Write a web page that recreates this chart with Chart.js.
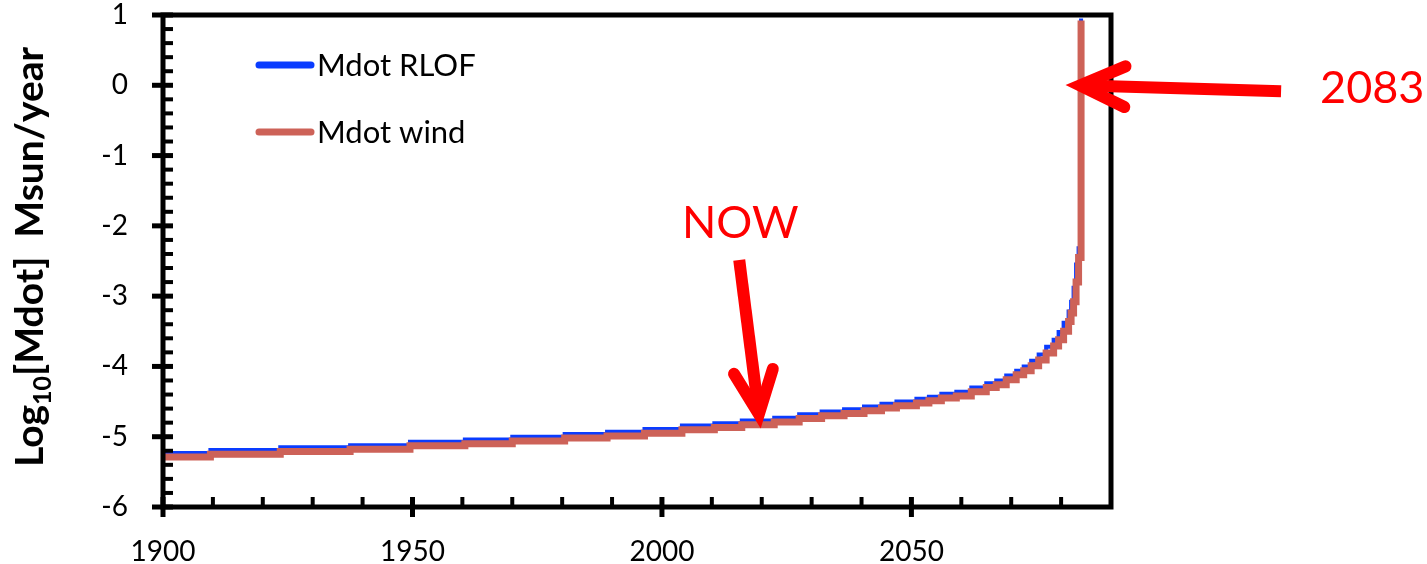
<!DOCTYPE html>
<html>
<head>
<meta charset="utf-8">
<script src="https://cdn.jsdelivr.net/npm/chart.js@4/dist/chart.umd.min.js"></script>
<style>
html,body{margin:0;padding:0;background:#fff;}
#wrap{width:1427px;height:564px;position:relative;}
canvas{display:block;}
</style>
</head>
<body>
<div id="wrap"><canvas id="c" width="1427" height="564"></canvas></div>
<script>
// ---- data ----
const years = [1900, 1909.5, 1923.5, 1937.5, 1949.5, 1960.5, 1970, 1980.5, 1989, 1996.5,
  2004, 2010.5, 2016, 2022.5, 2027.5, 2032, 2036.5, 2040.5, 2044, 2047,
  2051, 2053.5, 2056, 2059, 2062, 2065, 2067, 2069, 2071, 2072.5,
  2074, 2075.5, 2077, 2078.5, 2079.5, 2080.5, 2081.5, 2082, 2082.5, 2083,
  2083.5, 2084];
const mdotRLOF = [-5.23, -5.19, -5.15, -5.12, -5.07, -5.04, -5.00, -4.96, -4.93, -4.89,
  -4.84, -4.81, -4.77, -4.73, -4.68, -4.64, -4.61, -4.57, -4.53, -4.50,
  -4.46, -4.43, -4.39, -4.36, -4.30, -4.24, -4.20, -4.13, -4.06, -4.00,
  -3.92, -3.83, -3.72, -3.62, -3.51, -3.38, -3.22, -3.08, -2.88, -2.55,
  -2.32, 0.95];
const mdotWind = [-5.29, -5.25, -5.21, -5.18, -5.13, -5.10, -5.06, -5.02, -4.99, -4.95,
  -4.90, -4.87, -4.83, -4.79, -4.74, -4.70, -4.67, -4.63, -4.59, -4.56,
  -4.52, -4.49, -4.45, -4.42, -4.36, -4.30, -4.26, -4.19, -4.12, -4.06,
  -3.99, -3.91, -3.81, -3.71, -3.62, -3.50, -3.36, -3.24, -3.08, -2.80,
  -2.45, 0.92];
const seriesNames = ['Mdot RLOF', 'Mdot wind'];
const xTickValues = [1900, 1950, 2000, 2050];
const yTickValues = [-6, -5, -4, -3, -2, -1, 0, 1];
const xMinorStep = 10;
const yMinorStep = 0.2;
const nowMark = {year: 2019.5, value: -4.72, text: 'NOW'};
const endMark = {year: 2083.2, value: 0, text: '2083'};
const yTitleMain = 'Log', yTitleSub = '10', yTitleRest = '[Mdot]  Msun/year';

const FONT = 'Lato, Carlito, Calibri, "Open Sans", sans-serif';
const BLUE = '#0A3CFF';
const RED = '#CD6258';

const framePlugin = {
  id: 'framePlugin',
  afterDatasetsDraw(chart) {
    const ctx = chart.ctx;
    const {left, right, top, bottom} = chart.chartArea;
    const xs = chart.scales.x, ys = chart.scales.y;
    ctx.save();
    ctx.strokeStyle = '#000';
    ctx.lineCap = 'butt';
    ctx.lineWidth = 4;
    for (let v = ys.min; v < ys.max - 1e-9; v += yMinorStep) {
      const r = Math.round(v * 10) / 10;
      if (Math.abs(r - Math.round(r)) < 1e-6) continue;
      const py = ys.getPixelForValue(r);
      ctx.beginPath(); ctx.moveTo(left, py); ctx.lineTo(left + 10, py); ctx.stroke();
    }
    ctx.lineWidth = 5;
    yTickValues.forEach(v => {
      const py = ys.getPixelForValue(v);
      ctx.beginPath(); ctx.moveTo(left - 11, py); ctx.lineTo(left + 10, py); ctx.stroke();
    });
    ctx.lineWidth = 4;
    for (let v = xs.min + xMinorStep; v < xs.max - 1e-9; v += xMinorStep) {
      if (v % 50 === 0) continue;
      const px = xs.getPixelForValue(v);
      ctx.beginPath(); ctx.moveTo(px, bottom); ctx.lineTo(px, bottom - 10); ctx.stroke();
    }
    ctx.lineWidth = 5;
    xTickValues.forEach(v => {
      const px = xs.getPixelForValue(v);
      ctx.beginPath(); ctx.moveTo(px, bottom + 10); ctx.lineTo(px, bottom - 10); ctx.stroke();
    });
    ctx.lineWidth = 5;
    ctx.lineJoin = 'miter';
    ctx.strokeRect(left, top, right - left, bottom - top);
    ctx.restore();
  }
};

function drawArrow(ctx, tipX, tipY, tailX, tailY, wingLen, wingAng, width) {
  const dx = tailX - tipX, dy = tailY - tipY;
  const L = Math.hypot(dx, dy);
  const ux = dx / L, uy = dy / L;
  ctx.save();
  ctx.strokeStyle = '#FF0000';
  ctx.lineWidth = width;
  ctx.lineCap = 'butt';
  ctx.beginPath();
  ctx.moveTo(tailX, tailY);
  ctx.lineTo(tipX + ux * 8, tipY + uy * 8);
  ctx.stroke();
  const rot = (a) => [ux * Math.cos(a) - uy * Math.sin(a), ux * Math.sin(a) + uy * Math.cos(a)];
  const w1 = rot(wingAng), w2 = rot(-wingAng);
  ctx.lineCap = 'round';
  ctx.lineJoin = 'miter';
  ctx.beginPath();
  ctx.moveTo(tipX + w1[0] * wingLen, tipY + w1[1] * wingLen);
  ctx.lineTo(tipX + ux * 3, tipY + uy * 3);
  ctx.lineTo(tipX + w2[0] * wingLen, tipY + w2[1] * wingLen);
  ctx.stroke();
  ctx.restore();
}

const annotPlugin = {
  id: 'annotPlugin',
  afterDraw(chart) {
    const ctx = chart.ctx;
    const xs = chart.scales.x, ys = chart.scales.y;
    const {left, top, bottom} = chart.chartArea;

    // legend
    ctx.save();
    ctx.font = '31px ' + FONT;
    ctx.textBaseline = 'middle';
    ctx.fillStyle = '#000';
    chart.data.datasets.forEach((ds, i) => {
      const yy = top + 50 + i * 67;
      ctx.strokeStyle = ds.borderColor;
      ctx.lineWidth = 7;
      ctx.lineCap = 'round';
      ctx.beginPath(); ctx.moveTo(left + 96, yy); ctx.lineTo(left + 148, yy); ctx.stroke();
      ctx.fillText(ds.label, left + 154, yy + 1);
    });
    ctx.restore();

    // NOW arrow
    const tx = xs.getPixelForValue(nowMark.year), ty = ys.getPixelForValue(nowMark.value);
    const sx = tx - 20, sy = ty - 157;
    drawArrow(ctx, tx, ty, sx, sy, 50, 23 * Math.PI / 180, 12);
    ctx.save();
    ctx.fillStyle = '#FF0000';
    ctx.font = '45px ' + FONT;
    ctx.textAlign = 'center';
    ctx.textBaseline = 'alphabetic';
    ctx.fillText(nowMark.text, sx + 1, sy - 22);
    ctx.restore();

    // 2083 arrow
    const ex = xs.getPixelForValue(endMark.year), ey = ys.getPixelForValue(endMark.value);
    const fx = ex + 204, fy = ey + 6;
    drawArrow(ctx, ex, ey, fx, fy, 52, 23 * Math.PI / 180, 12);
    ctx.save();
    ctx.fillStyle = '#FF0000';
    ctx.font = '45px ' + FONT;
    ctx.textAlign = 'left';
    ctx.textBaseline = 'alphabetic';
    ctx.fillText(endMark.text, fx + 39, fy + 12);
    ctx.restore();

    // y axis title
    ctx.save();
    ctx.fillStyle = '#000';
    ctx.translate(43, (top + bottom) / 2 - 4);
    ctx.rotate(-Math.PI / 2);
    const mainF = 'bold 39px ' + FONT, subF = 'bold 25px ' + FONT;
    ctx.font = mainF; const w1 = ctx.measureText(yTitleMain).width;
    ctx.font = subF; const w2 = ctx.measureText(yTitleSub).width;
    ctx.font = mainF; const w3 = ctx.measureText(yTitleRest).width;
    let x0 = -(w1 + w2 + w3) / 2;
    ctx.textBaseline = 'alphabetic';
    ctx.textAlign = 'left';
    ctx.font = mainF; ctx.fillText(yTitleMain, x0, 0);
    ctx.font = subF; ctx.fillText(yTitleSub, x0 + w1, 8);
    ctx.font = mainF; ctx.fillText(yTitleRest, x0 + w1 + w2, 0);
    ctx.restore();
  }
};

const toPts = (vals) => years.map((x, i) => ({x: x, y: vals[i]}));

new Chart(document.getElementById('c').getContext('2d'), {
  type: 'line',
  data: {
    datasets: [
      {label: seriesNames[0], data: toPts(mdotRLOF), borderColor: BLUE, backgroundColor: BLUE,
       borderWidth: 4, stepped: true, pointRadius: 0, fill: false, order: 2},
      {label: seriesNames[1], data: toPts(mdotWind), borderColor: RED, backgroundColor: RED,
       borderWidth: 7, stepped: true, pointRadius: 0, fill: false, order: 1}
    ]
  },
  options: {
    responsive: false,
    animation: false,
    devicePixelRatio: 1,
    layout: {padding: {top: 15, right: 316, left: 0, bottom: 0}},
    plugins: {legend: {display: false}, tooltip: {enabled: false}},
    scales: {
      x: {
        type: 'linear', min: 1900, max: 2090,
        grid: {display: false, drawTicks: false},
        border: {display: false},
        ticks: {padding: 28, color: '#000', font: {family: FONT, size: 28},
                autoSkip: false, maxRotation: 0, callback: v => String(v)},
        afterBuildTicks: s => { s.ticks = xTickValues.map(v => ({value: v})); },
        afterFit: s => { s.height = 57; s.paddingLeft = 0; s.paddingRight = 0; }
      },
      y: {
        type: 'linear', min: -6, max: 1,
        grid: {display: false, drawTicks: false},
        border: {display: false},
        ticks: {padding: 35, color: '#000', font: {family: FONT, size: 28},
                autoSkip: false, callback: v => String(v)},
        afterBuildTicks: s => { s.ticks = yTickValues.map(v => ({value: v})); },
        afterFit: s => { s.width = 163; s.paddingTop = 0; s.paddingBottom = 0; }
      }
    }
  },
  plugins: [framePlugin, annotPlugin]
});
</script>
</body>
</html>
